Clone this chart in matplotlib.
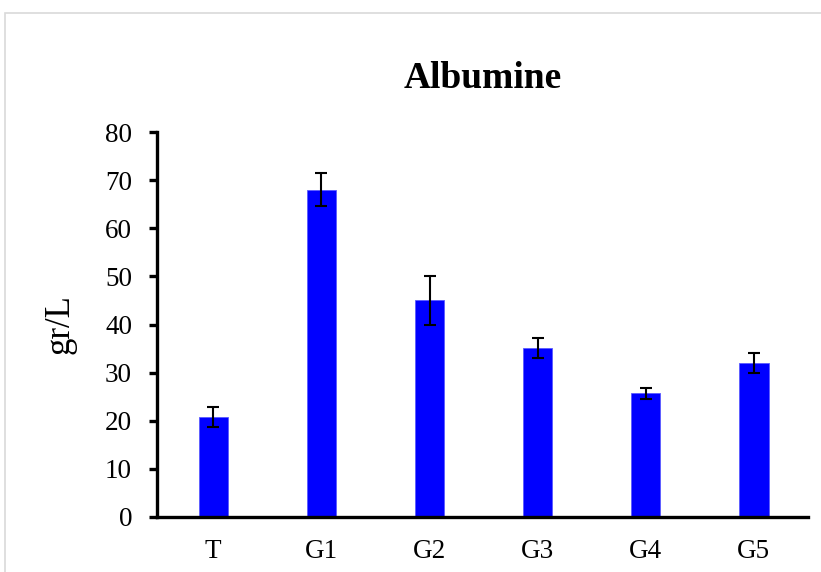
import matplotlib
matplotlib.use("Agg")
import matplotlib.pyplot as plt
from matplotlib.patches import Rectangle

categories = ["T", "G1", "G2", "G3", "G4", "G5"]
values = [20.7, 68.0, 45.0, 35.1, 25.7, 32.0]
errors = [2.1, 3.4, 5.0, 2.0, 1.2, 2.1]
yticks = [0, 10, 20, 30, 40, 50, 60, 70, 80]

plt.rcParams["font.family"] = ["Liberation Serif", "DejaVu Serif"]

fig = plt.figure(figsize=(8.21, 5.72), dpi=100)
fig.patch.set_facecolor("white")

# light chart-area frame
fig.patches.append(Rectangle((5 / 821, -0.1), 1.2, 1 - 13 / 572 + 0.1,
                             transform=fig.transFigure, fill=False,
                             edgecolor="#d9d9d9", linewidth=1.2))

ax = fig.add_axes([157 / 821, 1 - 517 / 572, (808 - 157) / 821, (517 - 132) / 572])
x = range(len(categories))
ax.bar(x, values, width=0.27, color="#0000ff", edgecolor="#5a5aff", linewidth=0.6,
       yerr=errors, error_kw=dict(ecolor="black", elinewidth=1.5, capsize=4.5, capthick=1.5))

ax.set_xlim(-0.52, 5.5)
ax.set_ylim(0, 80)
ax.set_yticks(yticks)
ax.set_xticks(list(x))
ax.set_xticklabels(categories)

for side in ("top", "right"):
    ax.spines[side].set_visible(False)
for side in ("left", "bottom"):
    ax.spines[side].set_linewidth(2.4)

ax.tick_params(axis="y", direction="out", length=6, width=2.4, labelsize=19.5, pad=12)
ax.tick_params(axis="x", length=0, labelsize=19.5, pad=16)

ax.set_ylabel("gr/L", fontsize=25)
ax.yaxis.set_label_coords((76 - 157) / (808 - 157), 0.5)
fig.text(483 / 821, 1 - 88 / 572, "Albumine", ha="center", va="baseline",
         fontsize=27, fontweight="bold")

fig.savefig("out.png", dpi=100, facecolor="white")
